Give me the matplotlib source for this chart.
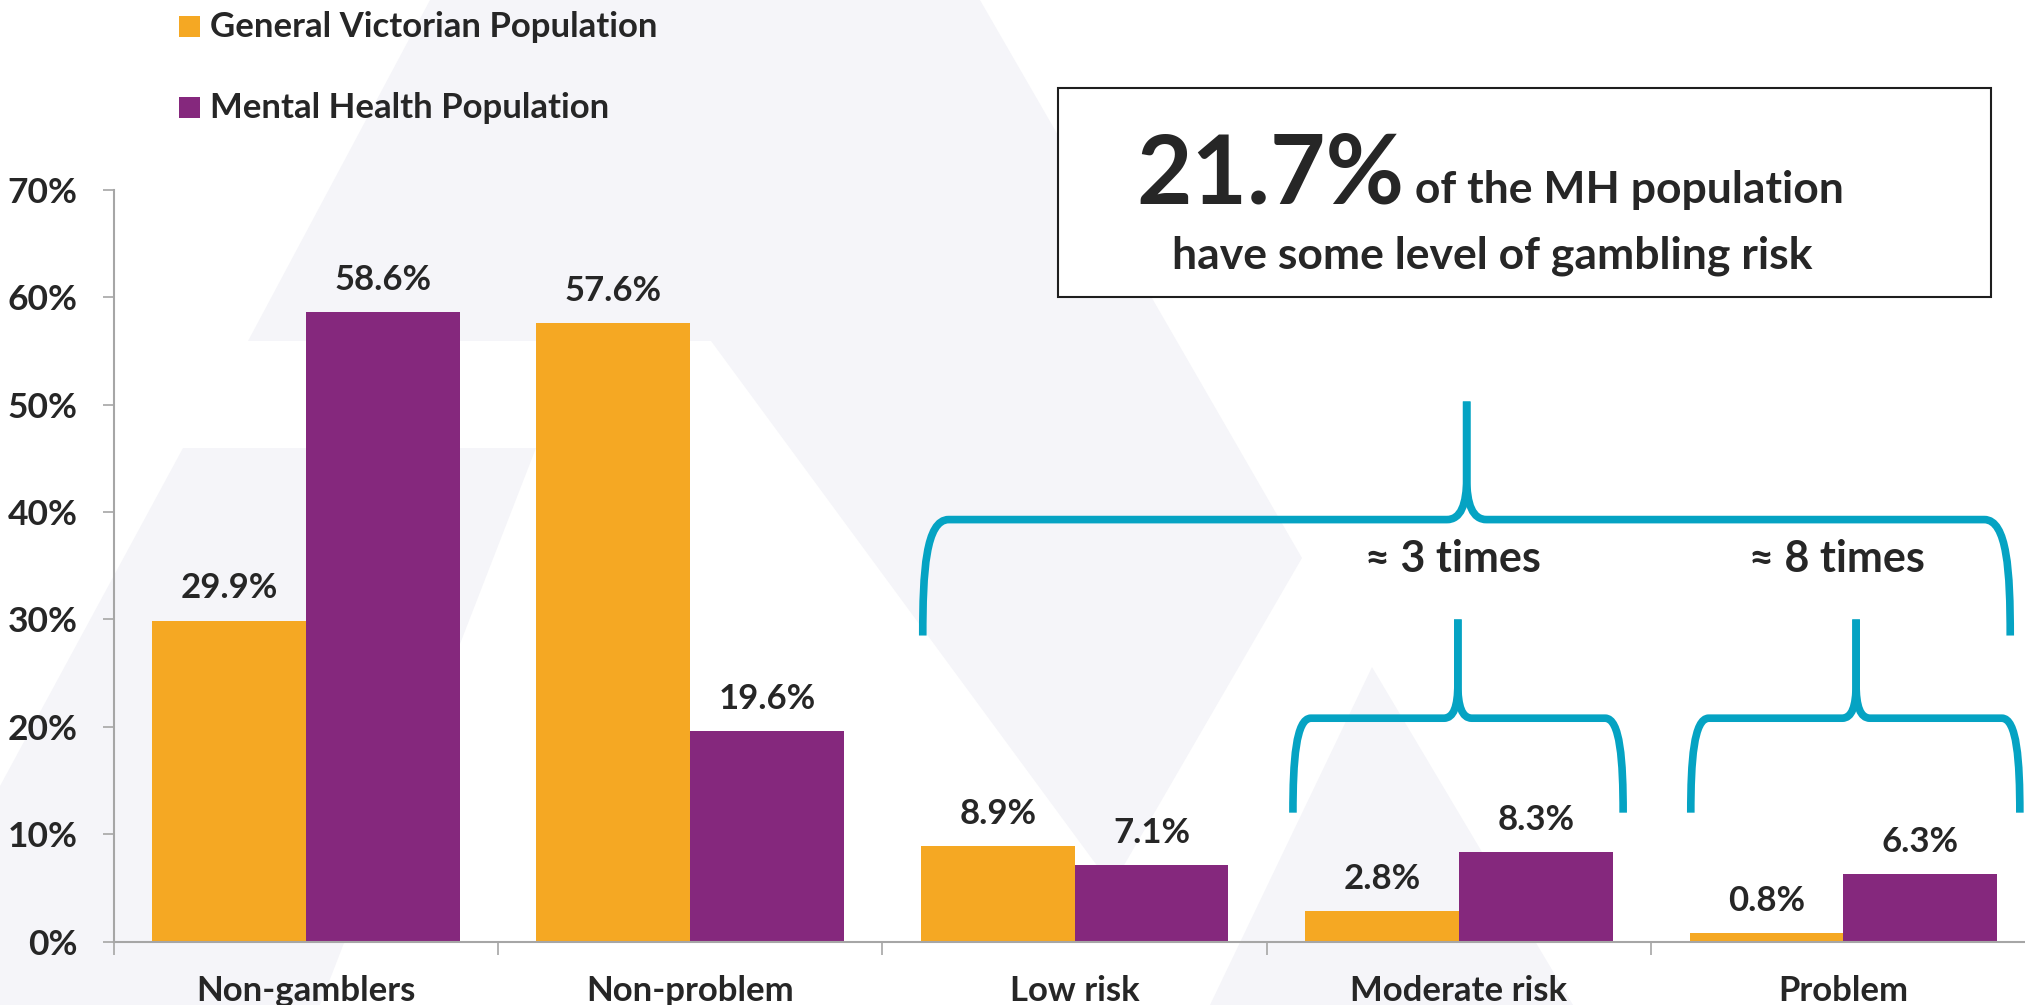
import matplotlib.pyplot as plt
import numpy as np
from matplotlib.patches import Polygon, Rectangle, PathPatch
from matplotlib.path import Path
from matplotlib.transforms import IdentityTransform

plt.rcParams['font.family'] = ['Lato', 'DejaVu Sans']
plt.rcParams['font.weight'] = 'bold'

categories = ['Non-gamblers', 'Non-problem', 'Low risk', 'Moderate risk', 'Problem']
general_pop = [29.9, 57.6, 8.9, 2.8, 0.8]
mental_health = [58.6, 19.6, 7.1, 8.3, 6.3]
series_names = ['General Victorian Population', 'Mental Health Population']
y_ticks = [0, 10, 20, 30, 40, 50, 60, 70]

ORANGE = '#F5A823'
PURPLE = '#85287D'
TEAL = '#05A3C3'
INK = '#262626'
AXIS_GREY = '#A6A6A6'
WATERMARK = '#F5F5F9'

W, H = 2025, 1005
fig = plt.figure(figsize=(W / 100, H / 100), dpi=100)


def fig_xy(px, py):
    # pixel position measured from the top-left corner -> figure fraction
    return px / W, 1 - py / H


# faint logo shapes in the background
logo = [
    [(430, 0), (980, 0), (1302, 558), (1112, 886), (711, 341), (248, 341)],
    [(183, 448), (536, 448), (320, 1005), (0, 1005), (0, 786)],
    [(1372, 667), (1210, 1005), (1573, 1005)],
]
for pts in logo:
    fig.patches.append(Polygon([fig_xy(*p) for p in pts], closed=True,
                               transform=fig.transFigure, facecolor=WATERMARK,
                               edgecolor='none', zorder=-10))

ax = fig.add_axes([113.6 / W, 1 - 941.5 / H, 5 * 384.4 / W, (941.5 - 190) / H])
ax.set_facecolor('none')

x = np.arange(len(categories))
w = 0.4
bars1 = ax.bar(x - w / 2, general_pop, w, color=ORANGE, zorder=2)
bars2 = ax.bar(x + w / 2, mental_health, w, color=PURPLE, zorder=2)
ax.set_xlim(-0.5, len(categories) - 0.5)
ax.set_ylim(0, 70)

for xs, vals in ((x - w / 2, general_pop), (x + w / 2, mental_health)):
    for xi, v in zip(xs, vals):
        ax.annotate(f'{v:.1f}%', xy=(xi, v), xytext=(0, 16), textcoords='offset points',
                    ha='center', va='baseline', fontsize=25, color=INK)

for side in ('top', 'right'):
    ax.spines[side].set_visible(False)
for side in ('left', 'bottom'):
    ax.spines[side].set_color(AXIS_GREY)
    ax.spines[side].set_linewidth(1.5)

ax.set_yticks(y_ticks)
ax.set_yticklabels([f'{t}%' for t in y_ticks])
ax.tick_params(axis='y', length=8, width=1.2, color=AXIS_GREY, pad=18,
               labelsize=25.5, labelcolor=INK)
ax.set_xticks(x)
ax.set_xticklabels(categories)
ax.tick_params(axis='x', which='major', length=0, pad=24, labelsize=25, labelcolor=INK)
ax.set_xticks(np.arange(-0.5, len(categories)), minor=True)
ax.tick_params(axis='x', which='minor', length=9, width=1.2, color=AXIS_GREY)

# legend drawn as coloured squares and labels at the top left
for (ypx, color, name) in ((37, ORANGE, series_names[0]), (118, PURPLE, series_names[1])):
    fx, fy = fig_xy(179, ypx)
    fig.patches.append(Rectangle((fx, fy), 21 / W, 21 / H, transform=fig.transFigure,
                                 facecolor=color, edgecolor='none'))
    tx, ty = fig_xy(210, ypx)
    fig.text(tx, ty, name, fontsize=25, color=INK, va='baseline', ha='left')

# callout box
bx0, by0 = fig_xy(1058, 297)
fig.patches.append(Rectangle((bx0, by0), (1991 - 1058) / W, (297 - 88) / H,
                             transform=fig.transFigure, facecolor='white',
                             edgecolor='#1E1E1E', linewidth=1.5, zorder=3))
big = fig.text(0, 0, '21.7%', fontsize=69, color=INK, va='baseline', ha='left', zorder=4)
small = fig.text(0, 0, ' of the MH population', fontsize=32, color=INK,
                 va='baseline', ha='left', zorder=4)
renderer = fig.canvas.get_renderer()
wb = big.get_window_extent(renderer).width
ws = small.get_window_extent(renderer).width
start = 1490 - (wb + ws) / 2
big.set_position(fig_xy(start, 203))
small.set_position(fig_xy(start + wb, 203))
fig.text(*fig_xy(1492, 268), 'have some level of gambling risk', fontsize=32, color=INK,
         va='baseline', ha='center', zorder=4)


def brace(x0, x1, xm, y_end, y_bar, y_tip, corner=24, tip=18, rise=40):
    # upward pointing curly brace, built in display pixels from data anchors
    (L, yb), (R, yh), (T, yt) = ax.transData.transform([(x0, y_end), (x1, y_bar), (xm, y_tip)])
    for s, E in ((1, L), (-1, R)):
        verts = [(E, yb),
                 (E, yb + 0.55 * (yh - yb)), (E + s * 3, yh), (E + s * corner, yh),
                 (T - s * tip, yh),
                 (T - s * tip * 0.3, yh), (T, yh + rise * 0.35), (T, yh + rise),
                 (T, yt)]
        codes = [Path.MOVETO, Path.CURVE4, Path.CURVE4, Path.CURVE4, Path.LINETO,
                 Path.CURVE4, Path.CURVE4, Path.CURVE4, Path.LINETO]
        fig.patches.append(PathPatch(Path(verts, codes), transform=IdentityTransform(),
                                     fill=False, edgecolor=TEAL, linewidth=5.5,
                                     capstyle='butt', joinstyle='round', zorder=3))


brace(1.605, 4.434, 3.02, 28.5, 39.3, 50.3, corner=26, tip=20, rise=42)
brace(2.568, 3.427, 2.997, 12.0, 20.8, 30.0, corner=18, tip=14, rise=34)
brace(3.603, 4.459, 4.033, 12.0, 20.8, 30.0, corner=18, tip=14, rise=34)

ax.text(2.984, 34.4, '≈ 3 times', fontsize=31, color=INK, ha='center', va='baseline')
ax.text(3.983, 34.4, '≈ 8 times', fontsize=31, color=INK, ha='center', va='baseline')

fig.savefig('out.png', dpi=100, facecolor='white')
